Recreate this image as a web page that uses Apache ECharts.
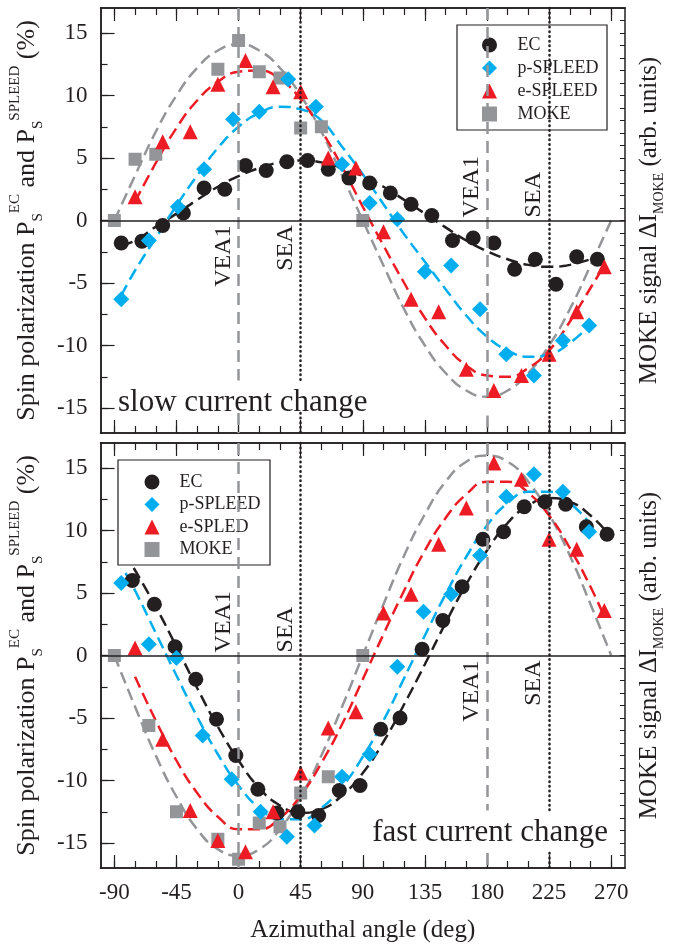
<!DOCTYPE html>
<html>
<head>
<meta charset="utf-8">
<title>Spin polarization vs azimuthal angle</title>
<script src="https://cdn.jsdelivr.net/npm/echarts@6/dist/echarts.min.js"></script>
<style>
  html, body { margin: 0; padding: 0; background: #fff; }
  #chart { width: 674px; height: 947px; }
</style>
</head>
<body>
<div id="chart"></div>
<script>
// --- slow current change (upper panel), measured points
const ecSlowX = [-85, -70, -55, -40, -25, -10, 5, 20, 35, 50, 65, 80, 95, 110, 125, 140, 155, 170, 185, 200, 215, 230, 245, 260]
const ecSlowY = [-1.8, -1.65, -0.4, 0.6, 2.6, 2.5, 4.4, 4.0, 4.7, 4.8, 4.1, 3.4, 3.0, 2.2, 1.3, 0.4, -1.6, -1.4, -1.8, -3.9, -3.1, -5.1, -2.9, -3.1]
const pSlowX = [-85, -65, -44, -25, -4, 15, 36, 56, 75, 95, 115, 135, 154, 175, 194, 214, 235, 254]
const pSlowY = [-6.3, -1.6, 1.1, 4.1, 8.1, 8.7, 11.3, 9.1, 4.5, 1.4, 0.1, -4.1, -3.6, -7.1, -10.7, -12.4, -9.6, -8.4]
const eSlowX = [-75, -55, -35, -15, 5, 25, 45, 65, 85, 105, 125, 145, 165, 185, 205, 225, 245, 265]
const eSlowY = [1.9, 6.3, 7.1, 10.9, 12.8, 10.7, 10.3, 5.0, 4.2, -0.9, -6.3, -7.3, -11.9, -13.6, -12.4, -10.7, -7.3, -3.7]
const mokeSlowX = [-90, -75, -60, -15, 0, 15, 30, 45, 60, 90]
const mokeSlowY = [0, 4.9, 5.3, 12.1, 14.4, 11.9, 11.4, 7.4, 7.5, 0]

// fitted curves
const ecSlowFitX = [-85, -75, -60, -45, -30, -15, 0, 15, 30, 45, 60, 75, 90, 105, 120, 135, 150, 165, 180, 195, 210, 225, 240, 255]
const ecSlowFitY = [-2.0, -1.6, -0.5, 0.55, 1.65, 2.7, 3.55, 4.2, 4.65, 4.8, 4.65, 4.2, 3.55, 2.7, 1.65, 0.55, -0.55, -1.6, -2.45, -3.1, -3.55, -3.7, -3.55, -3.1]
const pSlowFitX = [-85, -75, -60, -45, -30, -15, 0, 15, 30, 45, 60, 75, 90, 105, 120, 135, 150, 165, 180, 195, 210, 225, 240, 255]
const pSlowFitY = [-6.0, -4.0, -1.4, 1.2, 3.6, 5.8, 7.5, 8.6, 9.1, 8.9, 8.0, 5.9, 3.7, 1.3, -1.1, -3.3, -5.5, -7.6, -9.3, -10.4, -10.9, -10.7, -9.8, -8.3]
const eSlowFitX = [-75, -60, -45, -30, -15, 0, 15, 30, 45, 60, 75, 90, 105, 120, 135, 150, 165, 180, 195, 210, 225, 240, 255, 265]
const eSlowFitY = [1.5, 4.6, 7.4, 9.6, 11.1, 11.9, 12.0, 11.3, 9.7, 7.2, 4.3, 1.1, -2.0, -5.0, -7.8, -10.0, -11.6, -12.4, -12.5, -11.8, -10.4, -8.1, -5.4, -3.6]
const mokeSlowFitX = [-90, -75, -60, -45, -30, -15, 0, 15, 30, 45, 60, 75, 90, 105, 120, 135, 150, 165, 180, 195, 210, 225, 240, 255, 270]
const mokeSlowFitY = [0, 3.6, 7.1, 10.0, 12.2, 13.6, 14.1, 13.6, 12.2, 10.0, 7.1, 3.6, 0, -3.6, -7.1, -10.0, -12.2, -13.6, -14.1, -13.6, -12.2, -10.0, -7.1, -3.6, 0]

// --- fast current change (lower panel), measured points
const ecFastX = [-77, -61, -46, -31, -16, -2, 14, 28, 43, 58, 73, 88, 103, 117, 133, 148, 162, 177, 192, 207, 222, 237, 252, 267]
const ecFastY = [6.0, 4.1, 0.7, -1.9, -5.1, -8.0, -10.7, -12.6, -12.5, -12.8, -10.8, -10.4, -5.9, -5.0, 0.5, 2.8, 5.5, 9.3, 9.9, 11.9, 12.3, 12.1, 10.3, 9.7]
const pFastX = [-85, -65, -45, -26, -5, 16, 35, 55, 75, 95, 115, 134, 154, 175, 194, 214, 235, 254]
const pFastY = [5.8, 0.9, -0.2, -6.4, -9.9, -12.5, -14.5, -13.6, -9.7, -7.9, -0.9, 3.5, 4.9, 8.0, 12.7, 14.5, 13.1, 9.9]
const eFastX = [-75, -55, -35, -15, 5, 25, 45, 65, 85, 105, 125, 145, 165, 185, 205, 225, 245, 265]
const eFastY = [0.6, -6.7, -12.4, -14.8, -15.7, -12.5, -9.4, -5.8, -4.5, 3.4, 4.9, 8.9, 11.8, 15.4, 14.1, 9.3, 8.5, 3.6]
const mokeFastX = [-90, -65, -45, -15, 0, 15, 30, 45, 65, 90]
const mokeFastY = [0, -5.6, -12.5, -14.7, -16.3, -13.4, -13.7, -11.0, -9.7, 0]

// fitted curves
const ecFastFitX = [-76, -60, -45, -30, -15, 0, 15, 30, 45, 60, 75, 90, 105, 120, 135, 150, 165, 180, 195, 210, 225, 240, 255, 268]
const ecFastFitY = [7.0, 3.9, 0.7, -2.6, -5.7, -8.4, -10.6, -12.0, -12.6, -12.3, -11.2, -9.4, -6.9, -3.9, -0.7, 2.6, 5.7, 8.4, 10.6, 12.0, 12.6, 12.3, 11.2, 9.7]
const pFastFitX = [-82, -75, -60, -45, -30, -15, 0, 15, 30, 45, 60, 75, 90, 105, 120, 135, 150, 165, 180, 195, 210, 225, 240, 255]
const pFastFitY = [6.6, 5.2, 1.8, -1.6, -4.9, -7.9, -10.4, -12.2, -13.1, -13.1, -12.2, -10.5, -8.1, -5.2, -1.8, 1.6, 4.9, 7.9, 10.4, 12.2, 13.1, 13.1, 12.2, 10.5]
const eFastFitX = [-75, -60, -45, -30, -15, 0, 15, 30, 45, 60, 75, 90, 105, 120, 135, 150, 165, 180, 195, 210, 225, 240, 255, 265]
const eFastFitY = [-1.7, -5.2, -8.4, -11.0, -12.9, -13.9, -13.9, -13.0, -11.2, -8.6, -5.5, -1.9, 1.7, 5.2, 8.4, 11.0, 12.9, 13.9, 13.9, 13.0, 11.2, 8.6, 5.5, 3.1]
const mokeFastFitX = [-90, -75, -60, -45, -30, -15, 0, 15, 30, 45, 60, 75, 90, 105, 120, 135, 150, 165, 180, 195, 210, 225, 240, 255, 270]
const mokeFastFitY = [0, -4.1, -8.0, -11.3, -13.9, -15.5, -16.0, -15.5, -13.9, -11.3, -8.0, -4.1, 0, 4.1, 8.0, 11.3, 13.9, 15.5, 16.0, 15.5, 13.9, 11.3, 8.0, 4.1, 0]

// axes
const xTicks = [-90, -45, 0, 45, 90, 135, 180, 225, 270]
const xMinorTicks = [-90, -75, -60, -45, -30, -15, 0, 15, 30, 45, 60, 75, 90, 105, 120, 135, 150, 165, 180, 195, 210, 225, 240, 255, 270]
const yTicks = [-15, -10, -5, 0, 5, 10, 15]
const yMinorTicks = [-15, -12.5, -10, -7.5, -5, -2.5, 0, 2.5, 5, 7.5, 10, 12.5, 15]
const vea1 = [0, 180]
const sea = [45, 225]

const FONT = '"Liberation Serif", "Times New Roman", serif'
const INK = '#231f20'
const BLACK = '#231f20'
const CYAN = '#00aeef'
const RED = '#ed1c24'
const GREY = '#939598'

function pairs(xs, ys) {
  return xs.map((x, i) => [x, ys[i]])
}
function seg(x, y0, y1) {
  return [{ coord: [x, y0] }, { coord: [x, y1] }]
}

function xAxes(g, labels) {
  const base = {
    type: 'value', gridIndex: g, min: -100, max: 280,
    splitLine: { show: false },
    axisLine: { onZero: false, lineStyle: { color: INK, width: 1.5 } }
  }
  const tick = (len, vals) => ({ inside: true, length: len, customValues: vals, lineStyle: { color: INK, width: 1.2 } })
  return [
    Object.assign({}, base, {
      position: 'bottom', axisTick: tick(13, xTicks),
      axisLabel: { show: labels, customValues: xTicks, margin: 13, fontFamily: FONT, fontSize: 23, color: INK },
      name: labels ? 'Azimuthal angle (deg)' : '',
      nameLocation: 'middle', nameGap: 50,
      nameTextStyle: { fontFamily: FONT, fontSize: 25, color: INK }
    }),
    Object.assign({}, base, { position: 'bottom', axisTick: tick(7, xMinorTicks), axisLabel: { show: false } }),
    Object.assign({}, base, { position: 'top', axisTick: tick(13, xTicks), axisLabel: { show: false } }),
    Object.assign({}, base, { position: 'top', axisTick: tick(7, xMinorTicks), axisLabel: { show: false } })
  ]
}

function yAxes(g) {
  const base = {
    type: 'value', gridIndex: g, min: -17, max: 17,
    splitLine: { show: false },
    axisLine: { onZero: false, lineStyle: { color: INK, width: 1.5 } }
  }
  return [
    Object.assign({}, base, {
      position: 'left',
      axisTick: { inside: true, length: 14, customValues: yTicks, lineStyle: { color: INK, width: 1.2 } },
      axisLabel: { customValues: yTicks, margin: 13, fontFamily: FONT, fontSize: 23, color: INK },
      name: '{m|Spin polarization P}{b|S}{t|EC}{m| and P}{b|S}{t|SPLEED}{m| (%)}',
      nameLocation: 'middle', nameRotate: 90, nameGap: 53,
      nameTextStyle: {
        fontFamily: FONT, color: INK,
        rich: {
          m: { fontFamily: FONT, fontSize: 26, lineHeight: 38, color: INK },
          b: { fontFamily: FONT, fontSize: 15, lineHeight: 12, verticalAlign: 'bottom', color: INK },
          t: { fontFamily: FONT, fontSize: 15, lineHeight: 20, verticalAlign: 'top', color: INK }
        }
      }
    }),
    Object.assign({}, base, {
      position: 'left',
      axisTick: { inside: true, length: 7, customValues: yMinorTicks, lineStyle: { color: INK, width: 1.2 } },
      axisLabel: { show: false }
    }),
    Object.assign({}, base, {
      position: 'right', interval: 1,
      axisTick: { inside: true, length: 5, lineStyle: { color: INK, width: 1 } },
      axisLabel: { show: false },
      name: '{m|MOKE signal ΔI}{b|MOKE}{m| (arb. units)}',
      nameLocation: 'middle', nameRotate: 90, nameGap: 7,
      nameTextStyle: {
        fontFamily: FONT, color: INK,
        rich: {
          m: { fontFamily: FONT, fontSize: 25, lineHeight: 34, color: INK },
          b: { fontFamily: FONT, fontSize: 14, lineHeight: 12, verticalAlign: 'bottom', color: INK }
        }
      }
    })
  ]
}

const dash = { width: 2.5, type: [12, 6] }
function fit(g, name, xs, ys, color, extra) {
  return Object.assign({
    name: name, type: 'line', xAxisIndex: g * 4, yAxisIndex: g * 3,
    data: pairs(xs, ys), smooth: true, showSymbol: false, symbol: 'none',
    lineStyle: Object.assign({ color: color }, dash), silent: true, z: 2
  }, extra || {})
}
function dots(g, name, xs, ys, color, symbol, size) {
  return {
    name: name, type: 'scatter', xAxisIndex: g * 4, yAxisIndex: g * 3,
    data: pairs(xs, ys), symbol: symbol, symbolSize: size,
    itemStyle: { color: color, opacity: 1 }, z: 3
  }
}

const veaStyle = { color: GREY, type: [12, 7], width: 2.5 }
const seaStyle = { color: INK, type: [0.5, 4.2], cap: 'round', width: 2.5 }
const zeroLine = { yAxis: 0, lineStyle: { color: INK, type: 'solid', width: 1.5 } }
function refLines(data, style) {
  return { silent: true, symbol: ['none', 'none'], label: { show: false }, lineStyle: style, data: data }
}

const series = [
  fit(0, 'MOKE fit', mokeSlowFitX, mokeSlowFitY, GREY, {
    markLine: refLines([seg(vea1[0], 17, -12.8), seg(vea1[0], -15.4, -17), seg(vea1[1], 17, -14.1), seg(vea1[1], -15.6, -17)], veaStyle)
  }),
  fit(0, 'EC fit', ecSlowFitX, ecSlowFitY, BLACK, {
    markLine: refLines([zeroLine, seg(sea[0], 17, -12.8), seg(sea[0], -15.4, -17), seg(sea[1], 17, -17)], seaStyle)
  }),
  fit(0, 'e fit', eSlowFitX, eSlowFitY, RED),
  fit(0, 'p fit', pSlowFitX, pSlowFitY, CYAN),
  dots(0, 'MOKE', mokeSlowX, mokeSlowY, GREY, 'rect', 13),
  dots(0, 'EC', ecSlowX, ecSlowY, BLACK, 'circle', 15),
  dots(0, 'e-SPLEED', eSlowX, eSlowY, RED, 'triangle', 15),
  dots(0, 'p-SPLEED', pSlowX, pSlowY, CYAN, 'diamond', 16),

  fit(1, 'MOKE fit', mokeFastFitX, mokeFastFitY, GREY, {
    markLine: refLines([seg(vea1[0], 17, -17), seg(vea1[1], 17, -12.4), seg(vea1[1], -15.8, -17)], veaStyle)
  }),
  fit(1, 'EC fit', ecFastFitX, ecFastFitY, BLACK, {
    markLine: refLines([zeroLine, seg(sea[0], 17, -17), seg(sea[1], 17, -12.4), seg(sea[1], -15.8, -17)], seaStyle)
  }),
  fit(1, 'e fit', eFastFitX, eFastFitY, RED),
  fit(1, 'p fit', pFastFitX, pFastFitY, CYAN),
  dots(1, 'MOKE', mokeFastX, mokeFastY, GREY, 'rect', 13),
  dots(1, 'EC', ecFastX, ecFastY, BLACK, 'circle', 15),
  dots(1, 'e-SPLED', eFastX, eFastY, RED, 'triangle', 15),
  dots(1, 'p-SPLEED', pFastX, pFastY, CYAN, 'diamond', 16)
]

// square icon box; the text is pushed right with padding
const legendBase = {
  orient: 'vertical', itemWidth: 15, itemHeight: 15, selectedMode: false
}
const legendText = pad => ({ fontFamily: FONT, fontSize: 18, color: INK, padding: [0, 0, 0, pad] })

const option = {
  animation: false,
  backgroundColor: '#fff',
  grid: [
    { left: 100, right: 49, top: 8, height: 425 },
    { left: 100, right: 49, top: 443, height: 425 }
  ],
  xAxis: xAxes(0, false).concat(xAxes(1, true)),
  yAxis: yAxes(0).concat(yAxes(1)),
  legend: [
    Object.assign({}, legendBase, { left: 477, top: 31, itemGap: 5, textStyle: legendText(15.5), data: ['EC', 'p-SPLEED', 'e-SPLEED', 'MOKE'] }),
    Object.assign({}, legendBase, { left: 139.5, top: 468, itemGap: 4.5, textStyle: legendText(15), data: ['EC', 'p-SPLEED', 'e-SPLED', 'MOKE'] })
  ],
  series: series
}

const chart = echarts.init(document.getElementById('chart'))
chart.setOption(option)

// frames, captions and the rotated axis-direction tags
const toPx = (g, x, y) => chart.convertToPixel({ xAxisIndex: g * 4, yAxisIndex: g * 3 }, [x, y])
const tags = [
  [0, vea1[0], -0.4, 'VEA1', 'right'], [0, sea[0], -0.4, 'SEA', 'right'],
  [0, vea1[1], 0.25, 'VEA1', 'left'], [0, sea[1], 0.25, 'SEA', 'left'],
  [1, vea1[0], 0.25, 'VEA1', 'left'], [1, sea[0], 0.25, 'SEA', 'left'],
  [1, vea1[1], -0.4, 'VEA1', 'right'], [1, sea[1], -0.4, 'SEA', 'right']
]
const graphic = [
  { type: 'rect', shape: { x: 457, y: 25, width: 150, height: 105 }, style: { fill: 'none', stroke: INK, lineWidth: 1.2 }, z: 1 },
  { type: 'rect', shape: { x: 118, y: 460, width: 152, height: 105 }, style: { fill: 'none', stroke: INK, lineWidth: 1.2 }, z: 1 },
  { type: 'text', x: 118, y: 403, style: { text: 'slow current change', font: '31px ' + FONT, fill: INK, align: 'left', verticalAlign: 'middle' }, z: 5 },
  { type: 'text', x: 608, y: 833, style: { text: 'fast current change', font: '31px ' + FONT, fill: INK, align: 'right', verticalAlign: 'middle' }, z: 5 }
]
tags.forEach(function (t) {
  const p = toPx(t[0], t[1], t[2])
  graphic.push({
    type: 'text', x: p[0] - 3, y: p[1], rotation: Math.PI / 2,
    style: { text: t[3], font: '24px ' + FONT, fill: INK, align: t[4], verticalAlign: 'bottom' },
    z: 5
  })
})
chart.setOption({ graphic: graphic })
</script>
</body>
</html>
